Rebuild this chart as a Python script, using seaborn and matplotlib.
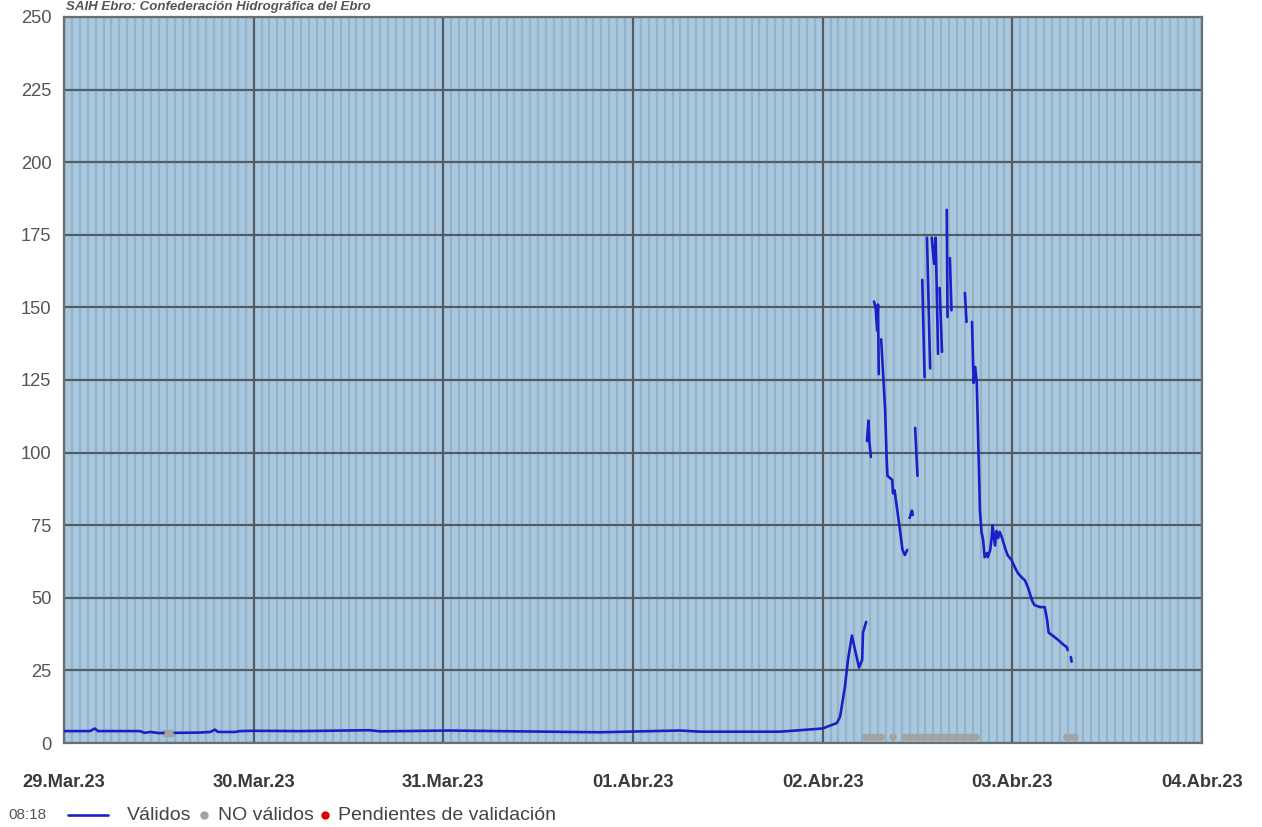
import numpy as np
import pandas as pd
import matplotlib
matplotlib.use("Agg")
import matplotlib.pyplot as plt
import matplotlib.dates as mdates
from matplotlib.lines import Line2D
import seaborn as sns

# Caudal (m3/s) readings; times are hours after 29.Mar.23 00:00.
# Each inner list is one continuous stretch of valid readings.
valid_hours = [
    [0.0, 3.3, 3.9, 4.3, 9.6, 10.2, 10.9, 12.1, 12.6],
    [14.0, 14.4, 17.2, 18.5, 19.1, 19.5, 21.6, 22.3, 24.0, 29.9, 38.7, 40.0,
     48.8, 57.7, 67.8, 72.9, 77.9, 80.5, 90.6, 93.1, 96.0, 97.8, 98.2, 98.8,
     99.2, 99.7, 100.1, 100.6, 101.0, 101.1, 101.5],
    [101.6, 101.8, 101.9, 102.1],
    [102.5, 102.7, 102.9, 103.0, 103.1],
    [103.4, 103.9, 104.1, 104.2, 104.8, 104.9, 105.1, 105.4, 105.8, 106.1,
     106.4, 106.7],
    [107.0, 107.3, 107.4],
    [107.7, 108.0],
    [108.6, 108.9],
    [109.2, 109.6],
    [109.8, 110.1, 110.3, 110.6],
    [110.8, 111.1],
    [111.7, 111.8],
    [112.1, 112.3],
    [114.0, 114.2],
    [114.9, 115.1, 115.3, 115.5, 115.8, 115.9, 116.1, 116.3, 116.5, 116.8,
     116.9, 117.2, 117.4, 117.5, 117.8, 118.0, 118.2, 118.4, 118.7, 119.1,
     119.4, 119.9, 120.3, 120.7, 121.2, 121.6, 122.0, 122.5, 122.8, 123.5,
     124.1, 124.4, 124.6, 125.1, 125.8, 126.4, 126.9, 127.0],
    [127.4, 127.5],
]
valid_flow = [
    [4.1, 4.1, 5.0, 4.1, 4.1, 3.5, 3.8, 3.4, 3.5],
    [3.5, 3.5, 3.6, 3.8, 4.6, 3.8, 3.8, 4.1, 4.2, 4.1, 4.4, 4.0,
     4.3, 4.0, 3.7, 4.0, 4.3, 3.9, 3.9, 4.4, 5.0, 6.9, 9.0, 19.0,
     28.6, 37.0, 32.0, 26.0, 28.6, 38.0, 41.7],
    [104.0, 111.0, 104.0, 98.5],
    [152.0, 150.0, 142.0, 151.0, 127.0],
    [139.0, 115.0, 97.5, 92.0, 90.6, 86.0, 87.0, 81.0, 73.0, 66.5,
     64.7, 66.5],
    [77.5, 80.0, 78.5],
    [108.5, 92.0],
    [159.5, 126.0],
    [174.0, 129.0],
    [174.0, 165.0, 174.0, 134.0],
    [156.7, 134.7],
    [183.6, 146.7],
    [167.0, 149.0],
    [155.0, 145.0],
    [145.0, 124.0, 129.5, 124.0, 91.6, 80.0, 72.7, 70.0, 64.0, 65.4,
     64.0, 66.5, 71.0, 75.0, 68.0, 73.0, 70.6, 72.7, 70.6, 67.0,
     64.7, 63.0, 60.6, 58.5, 57.0, 56.0, 53.4, 49.0, 47.5, 46.8,
     46.8, 42.4, 38.0, 37.0, 35.5, 34.0, 33.0, 32.0],
    [29.6, 28.0],
]

# Readings flagged as not valid
invalid_hours = [12.8, 13.0, 13.2, 13.4, 13.6,
                 101.4, 101.9, 102.4, 102.9, 103.4, 104.9,
                 106.4, 106.9, 107.4, 107.9, 108.4, 108.9, 109.4, 109.9,
                 110.4, 110.9, 111.4, 111.9, 112.4, 112.9, 113.4, 113.9,
                 114.4, 114.9, 115.4,
                 126.9, 127.4, 127.9]
invalid_flow = [3.3, 3.3, 3.3, 3.3, 3.3,
                2.0, 2.0, 2.0, 2.0, 2.0, 2.0,
                2.0, 2.0, 2.0, 2.0, 2.0, 2.0, 2.0, 2.0,
                2.0, 2.0, 2.0, 2.0, 2.0, 2.0, 2.0, 2.0,
                2.0, 2.0, 2.0,
                2.0, 2.0, 2.0]

day_labels = ["29.Mar.23", "30.Mar.23", "31.Mar.23", "01.Abr.23",
              "02.Abr.23", "03.Abr.23", "04.Abr.23"]
y_ticks = [0, 25, 50, 75, 100, 125, 150, 175, 200, 225, 250]

start = pd.Timestamp("2023-03-29 00:00")

rows = []
for seg, (hs, vs) in enumerate(zip(valid_hours, valid_flow)):
    for h, v in zip(hs, vs):
        rows.append({"time": start + pd.Timedelta(hours=h), "flow": v, "seg": seg})
valid_df = pd.DataFrame(rows)
invalid_df = pd.DataFrame({
    "time": [start + pd.Timedelta(hours=h) for h in invalid_hours],
    "flow": invalid_flow,
})

sns.set_theme(style="white")
plt.rcParams["font.family"] = ["Liberation Sans", "DejaVu Sans"]

W, H = 1262, 827
fig = plt.figure(figsize=(W / 100, H / 100), dpi=100)
ax = fig.add_axes([64 / W, 1 - 743 / H, (1202 - 64) / W, (743 - 17) / H])
ax.set_facecolor("#a9c8de")

line_col = "#1e1ec8"
sns.scatterplot(data=invalid_df, x="time", y="flow", ax=ax, color="#a3a3a3",
                s=28, edgecolor="none", zorder=3, legend=False)
sns.lineplot(data=valid_df, x="time", y="flow", units="seg", estimator=None,
             ax=ax, color=line_col, lw=1.9, zorder=4, legend=False)

days = [start + pd.Timedelta(days=i) for i in range(len(day_labels))]
ax.set_xlim(days[0], days[-1])
ax.set_ylim(0, 250)
ax.set_xticks(days)
ax.set_xticklabels(day_labels, fontsize=13.2, fontweight="bold", color="#3a3a3a")
ax.xaxis.set_minor_locator(mdates.HourLocator())
ax.set_yticks(y_ticks)
ax.set_yticklabels([str(v) for v in y_ticks], fontsize=13.2, color="#555555")
ax.tick_params(axis="x", which="major", length=0, pad=22)
ax.tick_params(axis="y", length=0, pad=9)
ax.tick_params(which="minor", length=0)
ax.set_xlabel("")
ax.set_ylabel("")

ax.grid(which="minor", axis="x", color="#93b3cb", lw=1.6, zorder=0)
ax.grid(which="major", axis="both", color="#525c64", lw=1.6, zorder=1)
ax.set_axisbelow(True)
for sp in ax.spines.values():
    sp.set_color("#6a6f74")
    sp.set_linewidth(1.6)

fig.text(66 / W, 1 - 1 / H,
         "SAIH Ebro: Confederación Hidrográfica del Ebro",
         fontsize=9.5, fontweight="bold", style="italic", color="#555555",
         va="top", ha="left")

# Legend row under the plot
ly = 1 - 815 / H
fig.text(8 / W, ly, "08:18", fontsize=11, color="#555555", va="center")
fig.add_artist(Line2D([68 / W, 108 / W], [ly, ly], transform=fig.transFigure,
                      color=line_col, lw=1.9))
fig.text(127 / W, ly, "Válidos", fontsize=14, color="#444444", va="center")
fig.add_artist(Line2D([204 / W], [ly], transform=fig.transFigure, marker="o",
                      ms=5, color="#a3a3a3", lw=0))
fig.text(218 / W, ly, "NO válidos", fontsize=14, color="#444444", va="center")
fig.add_artist(Line2D([325 / W], [ly], transform=fig.transFigure, marker="o",
                      ms=5, color="#e00000", lw=0))
fig.text(338 / W, ly, "Pendientes de validación", fontsize=14,
         color="#444444", va="center")

fig.savefig("out.png", dpi=100)
